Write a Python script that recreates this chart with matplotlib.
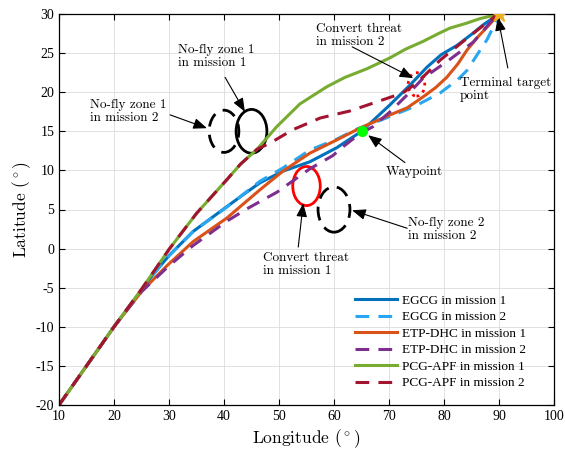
import numpy as np
import matplotlib
matplotlib.use('Agg')
import matplotlib.pyplot as plt
from matplotlib.patches import Circle

plt.rcParams['mathtext.fontset'] = 'cm'
plt.rcParams['axes.unicode_minus'] = False

# trajectories (longitude, latitude)
egcg1_x = [10, 15, 20, 25, 27, 30, 34.4, 40, 43.5, 46.5, 50.7, 55.6, 60.5, 65, 70.2, 73.8, 76.9, 79.5, 82.4, 85, 87.1, 90]
egcg1_y = [-20, -15, -10, -5.3, -3.4, -0.9, 2.2, 5.1, 6.9, 8.4, 9.9, 11.1, 12.9, 15, 18.4, 20.9, 23.2, 24.8, 26.0, 27.4, 28.6, 30]

egcg2_x = [10, 15, 20, 25, 27, 30, 34.4, 40.5, 46.5, 50.7, 55.6, 60.5, 64.2, 68.4, 74.4, 79.3, 82.5, 84.2, 86.5, 87.8, 89.6, 90]
egcg2_y = [-20, -15, -10, -5.3, -3.4, -0.9, 2.2, 5.3, 8.6, 10.3, 12.6, 14.0, 15.3, 16.4, 18.1, 19.9, 21.6, 22.8, 25.3, 26.7, 29.2, 30]

etp1_x = [10, 15, 20, 25, 29.6, 34.4, 40.5, 46.5, 50.7, 55.6, 60.5, 64.7, 70.2, 73.3, 76.2, 78.5, 80.5, 82.5, 84.2, 86.2, 87.8, 90]
etp1_y = [-20, -15, -10, -5.5, -2.2, 0.9, 3.9, 7.5, 9.9, 12.2, 13.9, 15.4, 17.1, 18.0, 19.4, 20.6, 21.9, 23.6, 25.4, 27.1, 28.3, 30]

etp2_x = [10, 15, 20, 25, 30, 34.4, 40.5, 44.2, 49.6, 52, 55.6, 59.8, 61.6, 64.7, 67.1, 70.2, 73.8, 76.2, 80.5, 85.3, 88.9, 90]
etp2_y = [-20, -15, -10, -5.5, -2.2, 0.4, 3.5, 5.1, 7.2, 8.4, 10.2, 11.9, 13.0, 14.7, 15.6, 17.5, 20.0, 21.8, 23.9, 26.4, 29.3, 30]

pcg1_x = [10, 15, 20, 25, 30, 35, 40.5, 43, 46, 49.6, 53.8, 58.7, 62, 66, 70.2, 73, 76.2, 79, 81.1, 84, 86.5, 90]
pcg1_y = [-20, -15, -10, -5.2, -0.1, 4.5, 8.8, 10.8, 12.7, 15.6, 18.5, 20.7, 21.9, 23.0, 24.4, 25.5, 26.5, 27.5, 28.2, 28.8, 29.4, 30]

pcg2_x = [10, 15, 20, 25, 30, 35, 40.5, 43, 46, 48.4, 52.5, 57.5, 62.9, 67.1, 72.5, 75.1, 79.3, 84.2, 88.9, 90]
pcg2_y = [-20, -15, -10, -5.2, -0.1, 4.5, 8.8, 10.8, 12.7, 13.5, 15.2, 16.7, 17.6, 18.6, 19.9, 21.2, 24.1, 26.9, 29.5, 30]

labels = ['EGCG in mission 1', 'EGCG in mission 2', 'ETP-DHC in mission 1',
          'ETP-DHC in mission 2', 'PCG-APF in mission 1', 'PCG-APF in mission 2']
colors = ['#0072BD', '#2AA7F2', '#D95319', '#7E2F8E', '#77AC30', '#A2142F']

# threat zones: center, radius
zone_x = [45, 40, 55, 60, 75]
zone_y = [15, 15, 8, 5, 21]
zone_r = [2.8, 2.7, 2.5, 2.9, 1.5]
zone_col = ['k', 'k', 'r', 'k', 'r']
zone_ls = ['-', (0, (5, 3)), '-', (0, (5, 3)), ':']

waypoint = (65, 15)
target = (90, 30)

fig = plt.figure(figsize=(5.65, 4.53), dpi=100)
ax = fig.add_axes([59/565, 48/453, 495/565, 391/453])

xs = [egcg1_x, egcg2_x, etp1_x, etp2_x, pcg1_x, pcg2_x]
ys = [egcg1_y, egcg2_y, etp1_y, etp2_y, pcg1_y, pcg2_y]
for i in range(6):
    ls = '-' if i % 2 == 0 else (0, (4.5, 3))
    ax.plot(xs[i], ys[i], color=colors[i], lw=2.2, ls=ls, label=labels[i])

for cx, cy, r, c, ls in zip(zone_x, zone_y, zone_r, zone_col, zone_ls):
    ax.add_patch(Circle((cx, cy), r, fill=False, ec=c, lw=2, ls=ls))

ax.plot(*waypoint, 'o', color='#00FF00', ms=7, zorder=5)
ax.plot(*target, '*', color='#EDB120', ms=13, zorder=5)

cm = 'cmr10'
notes = [
    ('No-fly zone 1\nin mission 1', (31.6, 24.6), (40.2, 21.9), (43.8, 17.5)),
    ('No-fly zone 1\nin mission 2', (15.6, 17.6), (30.2, 17.1), (36.9, 15.4)),
    ('Convert threat\nin mission 2', (56.7, 27.3), (63.3, 25.8), (74.4, 21.8)),
    ('Terminal target\npoint', (82.9, 20.4), (91.6, 23.1), (89.8, 29.6)),
    ('Waypoint', (69.5, 9.8), (72.9, 11.0), (66.2, 14.5)),
    ('Convert threat\nin mission 1', (47.1, -2.0), (53.5, 0.2), (54.4, 5.8)),
    ('No-fly zone 2\nin mission 2', (73.5, 2.4), (73.3, 2.6), (63.3, 4.9)),
]
for txt, pos, tail, head in notes:
    ax.text(pos[0], pos[1], txt, family=cm, fontsize=9.5, ha='left', va='center',
            linespacing=1.1)
    ax.annotate('', xy=head, xytext=tail,
                arrowprops=dict(arrowstyle='-|>,head_length=0.75,head_width=0.3',
                                color='k', lw=0.8, shrinkA=0, shrinkB=0,
                                mutation_scale=11))

ax.set_xlim(10, 100)
ax.set_ylim(-20, 30)
ax.set_xticks(np.arange(10, 101, 10))
ax.set_yticks(np.arange(-20, 31, 5))
ax.grid(True, color='#dcdcdc', lw=0.6)
ax.set_axisbelow(True)
ax.tick_params(direction='in', top=True, right=True, labelsize=10, length=4)
for lab in ax.get_xticklabels() + ax.get_yticklabels():
    lab.set_family('Liberation Serif')
for s in ax.spines.values():
    s.set_linewidth(0.9)

ax.set_xlabel('Longitude ($^\\circ$)', family=cm, fontsize=12.5, labelpad=3)
ax.set_ylabel('Latitude ($^\\circ$)', family=cm, fontsize=12.5, labelpad=2)

ax.legend(loc='lower right', bbox_to_anchor=(0.968, 0.01), frameon=False,
          prop={'family': 'Liberation Serif', 'size': 9.5},
          handlelength=3.2, handletextpad=0.4, labelspacing=0.32)

fig.savefig('out.png', dpi=100)
